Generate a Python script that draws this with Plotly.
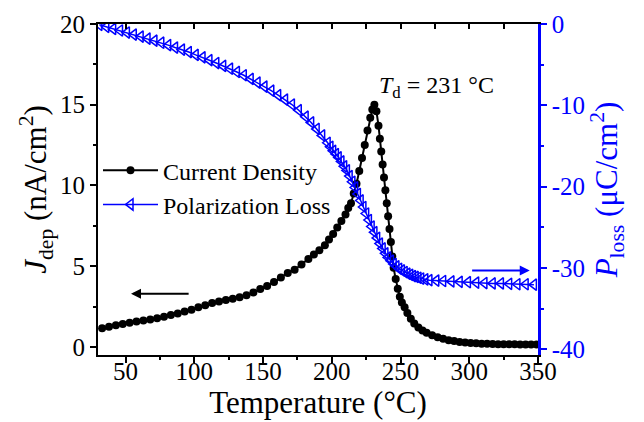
import plotly.graph_objects as go

# ---------------- data ----------------
temp_j = [33, 38, 43, 48, 53, 58, 63, 68, 73, 78, 83, 88, 93, 98, 103, 108, 113, 118,
          123, 128, 133, 138, 143, 148, 153, 158, 163, 168, 173, 178, 183, 187, 191, 195,
          198, 201, 204, 207, 210, 212, 214, 216, 218, 220, 222, 224, 226, 228, 229.5,
          231, 232.5, 234, 235, 236, 237, 238, 239, 240, 241, 242, 243, 244, 245, 246.5,
          248, 249.5, 251, 253, 255, 257.5, 260, 263, 266, 269, 273, 277, 281, 285, 289,
          293, 297, 301, 305, 309, 313, 317, 321, 325, 329, 333, 337, 341, 345, 349]
j_dep = [1.15, 1.25, 1.35, 1.42, 1.50, 1.57, 1.63, 1.70, 1.78, 1.87, 1.97, 2.07, 2.20,
         2.30, 2.45, 2.58, 2.72, 2.82, 2.90, 2.99, 3.08, 3.20, 3.37, 3.58, 3.78, 4.02,
         4.30, 4.58, 4.78, 5.10, 5.45, 5.72, 5.98, 6.30, 6.65, 7.00, 7.40, 7.80, 8.20,
         8.60, 8.90, 9.50, 10.10, 10.90, 11.70, 12.50, 13.40, 14.20, 14.70, 15.0, 14.6,
         13.7, 12.9, 12.1, 11.3, 10.5, 9.7, 8.9, 8.1, 7.3, 6.5, 5.6, 4.9, 4.2, 3.6, 3.1,
         2.75, 2.45, 2.1, 1.75, 1.45, 1.2, 1.02, 0.88, 0.72, 0.6, 0.5, 0.42, 0.36, 0.31,
         0.27, 0.24, 0.22, 0.2, 0.19, 0.18, 0.17, 0.17, 0.16, 0.16, 0.15, 0.15, 0.15, 0.15]

temp_p = [31, 36, 41, 46, 51, 56, 61, 66, 71, 76, 81, 86, 91, 96, 101, 106, 111, 116,
          121, 126, 131, 136, 141, 146, 151, 156, 161, 166, 171, 176, 181, 185, 189, 193,
          197, 199, 201, 203, 205, 207, 209, 211, 213, 215, 217, 219, 221, 223, 225, 227,
          229, 231, 233, 235, 237, 239, 241, 243, 245, 247, 249, 251, 253, 255, 257, 259,
          261, 263, 265, 268, 271, 276, 281, 287, 293, 299, 305, 311, 317, 323, 329, 335,
          341, 347]
p_loss = [-0.1, -0.35, -0.6, -0.8, -1.05, -1.3, -1.55, -1.8, -2.05, -2.3, -2.6, -2.9,
          -3.15, -3.45, -3.8, -4.1, -4.45, -4.8, -5.15, -5.5, -5.9, -6.3, -6.75, -7.2,
          -7.7, -8.2, -8.75, -9.3, -9.9, -10.6, -11.4, -12.1, -12.9, -13.7, -14.6, -15.1,
          -15.6, -16.0, -16.4, -16.9, -17.5, -18.0, -18.7, -19.4, -20.1, -20.9, -21.7,
          -22.5, -23.3, -24.1, -24.9, -25.6, -26.3, -27.0, -27.6, -28.2, -28.7, -29.1,
          -29.5, -29.8, -30.1, -30.3, -30.5, -30.7, -30.85, -31.0, -31.1, -31.2, -31.3,
          -31.4, -31.5, -31.55, -31.6, -31.65, -31.7, -31.75, -31.8, -31.85, -31.9, -31.9,
          -31.95, -32.0, -32.0, -32.05]

x_ticks = [50, 100, 150, 200, 250, 300, 350]
y_ticks = [0, 5, 10, 15, 20]
y2_ticks = [0, -10, -20, -30, -40]
y2_ticktext = ["0", "-10", "-20", "-30", "-40"]

FONT = "Liberation Serif, Times New Roman, serif"
BLUE = "#0000ff"
TICK_SIZE = 25
TITLE_SIZE = 31

fig = go.Figure()
fig.add_trace(go.Scatter(
    x=temp_j, y=j_dep, name="Current Density", mode="lines+markers",
    line=dict(color="black", width=2),
    marker=dict(symbol="circle", size=8, color="black"),
))
fig.add_trace(go.Scatter(
    x=temp_p, y=p_loss, name="Polarization Loss", mode="lines+markers", yaxis="y2",
    line=dict(color=BLUE, width=1.5),
    marker=dict(symbol="triangle-left-open", size=10, color=BLUE, line=dict(width=1.5, color=BLUE)),
))
# helper axis for inward ticks on top edge
fig.add_trace(go.Scatter(x=[], y=[], xaxis="x2", showlegend=False, hoverinfo="skip"))

fig.update_layout(
    width=644, height=422,
    margin=dict(l=98, r=106, t=24, b=67, autoexpand=False),
    paper_bgcolor="white", plot_bgcolor="white",
    font=dict(family=FONT, size=24, color="black"),
    showlegend=True,
    legend=dict(x=0.0, y=0.625, xanchor="left", yanchor="top", bgcolor="rgba(0,0,0,0)",
                font=dict(family=FONT, size=24, color="black"), itemwidth=55, tracegroupgap=0),
    xaxis=dict(
        range=[30, 350], showline=True, linecolor="black", linewidth=2, mirror=True,
        showgrid=False, zeroline=False, ticks="outside", ticklen=6, tickwidth=2,
        tickcolor="black", tickvals=x_ticks, automargin=False, ticklabelstandoff=-13,
        minor=dict(dtick=25, tick0=0, ticks="outside", ticklen=3, tickwidth=2, tickcolor="black"),
        title=dict(text="Temperature (°C)", font=dict(family=FONT, size=TITLE_SIZE, color="black"),
                   standoff=6),
        tickfont=dict(family=FONT, size=TICK_SIZE, color="black"),
    ),
    xaxis2=dict(
        range=[30, 350], overlaying="x", side="top", anchor="y", showline=False,
        showgrid=False, zeroline=False, ticks="inside", ticklen=5, tickwidth=2,
        tickcolor="black", showticklabels=False, dtick=25, tick0=0, automargin=False,
    ),
    yaxis=dict(
        range=[-0.5, 20], showline=True, linecolor="black", linewidth=2,
        showgrid=False, zeroline=False, ticks="outside", ticklen=6, tickwidth=2,
        tickcolor="black", tickvals=y_ticks, automargin=False,
        minor=dict(dtick=2.5, tick0=0, ticks="outside", ticklen=3, tickwidth=2, tickcolor="black"),
        title=dict(text="<i>J</i><sub>dep</sub> (nA/cm<sup>2</sup>)",
                   font=dict(family=FONT, size=TITLE_SIZE, color="black"), standoff=4),
        tickfont=dict(family=FONT, size=TICK_SIZE, color="black"),
    ),
    yaxis2=dict(
        range=[-40.7, 0], overlaying="y", side="right", showline=True, linecolor=BLUE,
        linewidth=2.5, showgrid=False, zeroline=False, ticks="outside", ticklen=6,
        tickwidth=2, tickcolor=BLUE, tickvals=y2_ticks, ticktext=y2_ticktext, automargin=False,
        minor=dict(dtick=5, tick0=0, ticks="outside", ticklen=3, tickwidth=2, tickcolor=BLUE),
        title=dict(text="<i>P</i><sub>loss</sub> (μC/cm<sup>2</sup>)",
                   font=dict(family=FONT, size=TITLE_SIZE, color=BLUE), standoff=4),
        tickfont=dict(family=FONT, size=TICK_SIZE, color=BLUE),
    ),
)

fig.add_annotation(
    x=232.6, y=16.1, xref="x", yref="y", xanchor="left", yanchor="middle",
    text="<i>T</i><sub>d</sub> = 231 °C", showarrow=False,
    font=dict(family=FONT, size=24, color="black"),
)
fig.add_annotation(
    x=54, y=3.3, ax=97, ay=3.3, xref="x", yref="y", axref="x", ayref="y",
    text="", showarrow=True, arrowhead=2, arrowsize=1, arrowwidth=2, arrowcolor="black",
    standoff=0, startstandoff=0,
)
fig.add_annotation(
    x=344, y=-30.3, ax=301, ay=-30.3, xref="x", yref="y2", axref="x", ayref="y2",
    text="", showarrow=True, arrowhead=2, arrowsize=1, arrowwidth=2, arrowcolor=BLUE,
    standoff=0, startstandoff=0,
)

fig.write_html("out.html")
